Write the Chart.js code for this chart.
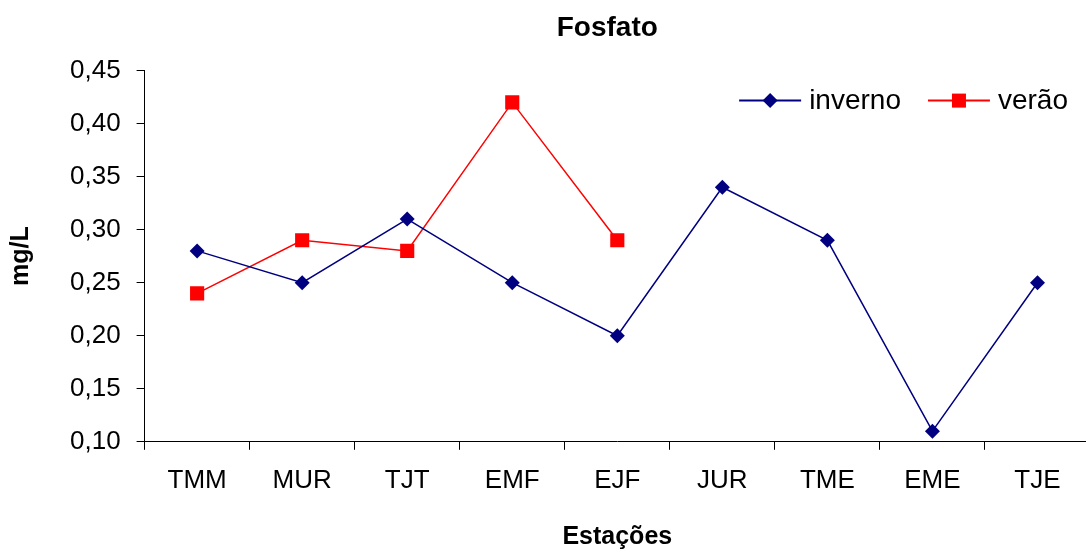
<!DOCTYPE html>
<html>
<head>
<meta charset="utf-8">
<script src="https://cdn.jsdelivr.net/npm/chart.js@4"></script>
<style>
  body { margin: 0; overflow: hidden; background: #fff; }
  #chart-container { width: 1100px; height: 552px; }
</style>
</head>
<body>
<div id="chart-container"><canvas id="myChart"></canvas></div>
<script>
const categories = ['TMM', 'MUR', 'TJT', 'EMF', 'EJF', 'JUR', 'TME', 'EME', 'TJE'];
const inverno = [0.28, 0.25, 0.31, 0.25, 0.20, 0.34, 0.29, 0.11, 0.25];
const verao = [0.24, 0.29, 0.28, 0.42, 0.29, null, null, null, null];
const seriesNames = ['inverno', 'verão'];

const navy = '#000080';
const red = '#ff0000';
const fontFamily = "'Liberation Sans', Arial, sans-serif";

Chart.defaults.font.family = fontFamily;
Chart.defaults.color = '#000';

// centre the main title over the plot, not the whole canvas
const titleOverPlot = {
    id: 'titleOverPlot',
    afterLayout(chart) {
        const t = chart.titleBlock;
        if (!t) return;
        t.left = chart.chartArea.left;
        t.right = chart.chartArea.right - 20;
        t.width = t.right - t.left;
    }
};

// legend drawn inside the plot, top right: line + marker + text
const insideLegend = {
    id: 'insideLegend',
    afterDraw(chart) {
        const ctx = chart.ctx;
        const area = chart.chartArea;
        const y = area.top + 30;
        const lineLen = 62;
        const textGap = 8;
        const itemGap = 27;
        ctx.save();
        ctx.font = '28px ' + fontFamily;
        ctx.textBaseline = 'middle';
        let widths = chart.data.datasets.map(ds => lineLen + textGap + ctx.measureText(ds.label).width);
        let total = widths.reduce((a, b) => a + b, 0) + itemGap * (widths.length - 1);
        let x = area.right - 22 - total;
        chart.data.datasets.forEach(function (ds, i) {
            ctx.strokeStyle = ds.borderColor;
            ctx.fillStyle = ds.backgroundColor;
            ctx.lineWidth = 2;
            ctx.beginPath();
            ctx.moveTo(x, y);
            ctx.lineTo(x + lineLen, y);
            ctx.stroke();
            const cx = x + lineLen / 2;
            if (ds.pointStyle === 'rectRot') {
                ctx.beginPath();
                ctx.moveTo(cx, y - 7.5);
                ctx.lineTo(cx + 7.5, y);
                ctx.lineTo(cx, y + 7.5);
                ctx.lineTo(cx - 7.5, y);
                ctx.closePath();
                ctx.fill();
            } else {
                ctx.fillRect(cx - 7, y - 7, 14, 14);
            }
            ctx.fillStyle = '#000';
            ctx.fillText(ds.label, x + lineLen + textGap, y + 1);
            x += widths[i] + itemGap;
        });
        ctx.restore();
    }
};

const data = {
    labels: categories,
    datasets: [{
        label: seriesNames[0],
        data: inverno,
        borderColor: navy,
        backgroundColor: navy,
        borderWidth: 1.5,
        pointStyle: 'rectRot',
        pointRadius: 7.5,
        pointHoverRadius: 7.5,
        pointBorderWidth: 0,
        tension: 0
    }, {
        label: seriesNames[1],
        data: verao,
        borderColor: red,
        backgroundColor: red,
        borderWidth: 1.5,
        pointStyle: 'rect',
        pointRadius: 10,
        pointHoverRadius: 10,
        pointBorderWidth: 0,
        tension: 0
    }]
};

const config = {
    type: 'line',
    data: data,
    plugins: [titleOverPlot, insideLegend],
    options: {
        responsive: true,
        maintainAspectRatio: false,
        animation: false,
        layout: {
            padding: { left: 6, right: 2, top: 0, bottom: 0 }
        },
        scales: {
            x: {
                offset: true,
                grid: {
                    display: true,
                    drawOnChartArea: false,
                    drawTicks: true,
                    tickLength: 8,
                    color: '#000',
                    offset: true
                },
                border: { display: true, color: '#000', width: 1 },
                ticks: {
                    color: '#000',
                    font: { size: 26 },
                    padding: 15,
                    maxRotation: 0,
                    autoSkip: false
                },
                title: {
                    display: true,
                    text: 'Estações',
                    color: '#000',
                    font: { size: 25, weight: 'bold' },
                    padding: { top: 11, bottom: 0 }
                }
            },
            y: {
                min: 0.10,
                max: 0.45,
                grid: {
                    display: true,
                    drawOnChartArea: false,
                    drawTicks: true,
                    tickLength: 8,
                    color: '#000'
                },
                border: { display: true, color: '#000', width: 1 },
                ticks: {
                    stepSize: 0.05,
                    color: '#000',
                    font: { size: 26 },
                    padding: 16,
                    callback: function (value) {
                        return value.toFixed(2).replace('.', ',');
                    }
                },
                title: {
                    display: true,
                    text: 'mg/L',
                    color: '#000',
                    font: { size: 25, weight: 'bold' },
                    padding: { top: 0, bottom: 18 }
                }
            }
        },
        plugins: {
            title: {
                display: true,
                text: 'Fosfato',
                color: '#000',
                font: { size: 28, weight: 'bold' },
                padding: { top: 11, bottom: 26 }
            },
            legend: { display: false },
            tooltip: { enabled: false }
        }
    }
};

const myChart = new Chart(
    document.getElementById('myChart'),
    config
);
</script>
</body>
</html>
